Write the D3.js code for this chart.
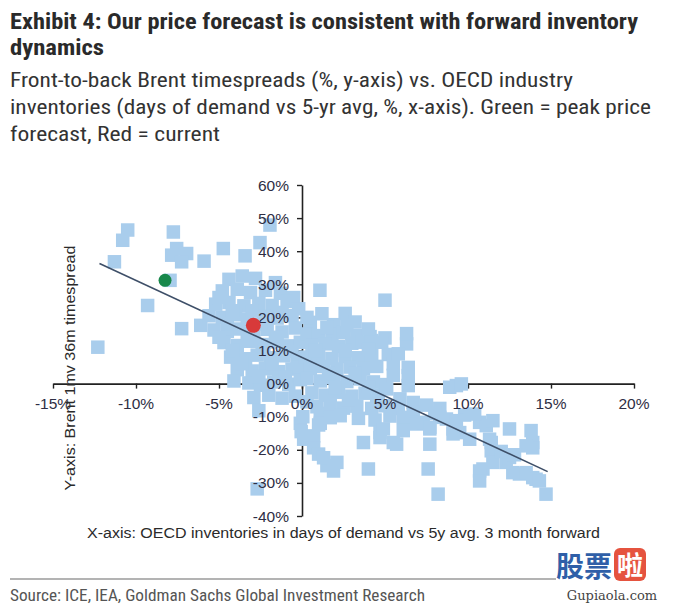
<!DOCTYPE html>
<html><head><meta charset="utf-8">
<script src="https://cdn.jsdelivr.net/npm/d3@7"></script>
<style>body{margin:0;background:#fff;}svg{display:block;}</style>
</head><body>
<script>
// ---- data ----
const titleLines = ["Exhibit 4: Our price forecast is consistent with forward inventory", "dynamics"];
const subtitleLines = ["Front-to-back Brent timespreads (%, y-axis) vs. OECD industry",
  "inventories (days of demand vs 5-yr avg, %, x-axis). Green = peak price",
  "forecast, Red = current"];
const xTicks = [-15, -10, -5, 0, 5, 10, 15, 20];
const yTicks = [-40, -30, -20, -10, 0, 10, 20, 30, 40, 50, 60];
const xTitle = "X-axis: OECD inventories in days of demand vs 5y avg. 3 month forward";
const yTitle = "Y-axis: Brent 1mv 36m timespread";
const sourceText = "Source: ICE, IEA, Goldman Sachs Global Investment Research";

// scatter: inventories (x, %) and timespread (y, %)
const invX = [
 -12.3,-11.3,-10.8,-10.5,-9.3,-7.95,-7.75,-7.55,-7.85,-6.95,-7.25,-7.25,-6.1,-5.9,-4.74,-3.43,-2.53,-1.93,
 -4.4,-3.6,-2.8,-1.6,
 -4.8,-3.9,-3.1,-2.2,-1.3,-0.5,
 -5.2,-4.4,-3.5,-2.6,-1.8,-0.9,-0.2,
 -5.6,-4.8,-4.0,-3.3,-2.3,-1.5,-0.6,
 -5.3,-4.5,-3.7,-2.9,-2.1,-1.2,-0.4,
 -4.7,-3.9,-3.1,-2.4,-1.6,-0.8,-0.1,
 -4.3,-3.4,-2.7,-1.9,-1.1,-0.3,
 -3.9,-3.0,-2.2,-1.4,-0.6,
 -4.1,-3.2,-2.5,-1.7,-0.8,-0.1,
 -2.9,-2.0,-1.2,-0.4,
 -5.0,-4.2,-3.0,-1.2,-4.5,-2.5,-5.0,-3.3,-1.5,-4.2,-2.3,-0.6,-3.6,-1.8,-0.2,-2.6,-1.0,
 -2.6,-2.7,-0.1,-0.05,0.1,0.7,0.7,1.0,1.5,2.1,1.3,1.9,1.1,1.1,0.05,
 0.5,1.2,2.6,3.2,1.9,1.08,5.0,
 0.3,1.0,1.8,2.5,3.3,4.1,5.0,
 0.6,1.4,2.2,3.0,3.6,4.2,4.8,6.3,6.3,
 0.2,1.0,1.8,2.6,3.4,4.2,5.2,
 0.5,1.3,2.1,2.9,3.7,4.5,5.5,6.4,6.4,
 0.3,1.1,1.9,2.7,3.5,4.3,5.0,6.4,
 0.6,1.4,2.2,3.0,3.8,4.6,5.1,5.9,
 0.9,1.7,2.5,3.3,4.2,5.0,6.7,
 0.3,1.5,2.7,4.0,0.8,2.6,4.0,1.6,3.2,5.8,5.5,2.0,4.0,0.3,2.8,4.5,1.0,5.8,
 1.7,2.3,3.4,4.4,5.3,6.7,6.7,6.1,6.1,6.9,
 3.7,4.0,4.7,4.7,4.9,5.5,5.7,7.3,7.7,7.7,7.6,8.2,
 9.3,8.9,9.6,7.5,8.3,8.7,9.1,9.5,10.1,10.7,11.1,11.5,12.5,11.3,11.4,11.4,
 13.8,13.9,13.9,13.5,10.9,10.7,10.7,11.5,12.3,12.5,12.7,13.1,13.5,13.9,14.1,14.3,14.7,
 12.0,12.8,9.8,10.4,8.0,8.3,9.3,9.1,7.7
];
const spreadY = [
 11,36.8,43.3,46.4,23.6,31.2,45.8,40.8,38.8,39.3,36.8,16.6,17.6,37.0,40.8,38.6,42.6,47.9,
 31.5,32.5,31.8,30.5,
 28,28.5,27.5,28.2,27.3,26,
 24,24.5,23.5,24.2,23.6,24.8,22.6,
 20.5,20,20.8,19.5,20.3,19.8,20.5,
 16.2,15.8,16.5,15.3,16.4,15.6,16.8,
 12.4,11.5,12.8,11.8,12.6,11.4,12.5,
 8,7.5,8.6,7.8,8.4,7.6,
 4.2,3.8,4.5,3.6,4.4,
 0.8,0.2,-0.5,0.5,-0.2,1.2,
 -4.2,-3.5,-4.4,-3.8,
 26,22,22,21.5,18,18,14,14,14,10,10,9.8,6,6,5,2.2,2,
 -8.2,-31.8,-12,-14.5,-16.8,-15.8,-19.4,-21.3,-24.8,-23.8,-22.4,-26.4,-9,-12,-10,
 18.5,21.1,21.2,18.6,17.8,28.2,25.2,
 15,14.5,14.8,15.4,14.5,14.2,13.8,
 11.5,12,11.2,12.2,12.5,13.0,12.5,12.0,15.1,
 8,8.5,7.6,8.2,7.8,8.5,8.8,
 4.6,5.2,4.4,5.0,4.5,5.2,6.0,4.9,2.4,
 1.5,0.8,1.8,0.6,1.4,0.5,-0.3,-0.6,
 -2.8,-3.5,-2.6,-3.8,-2.9,-3.4,-1.6,-4.6,
 -7,-6.5,-7.4,-6.8,-7.5,-6.7,-5.7,
 20,17,17.5,16.5,10,10,10.5,3,3,9,2.5,-1.2,-1,-5.5,-5,-5.3,-12.5,-7.5,
 -10.3,-9.7,-10.5,-11,-9.8,-8.7,-11.7,-10.2,-14.2,-12.2,
 -17.8,-25.8,-14.8,-16.3,-13.7,-17.8,-18.3,-11.7,-13.7,-18.3,-25.8,-33.4,
 -0.6,-1.1,-0.1,-6.5,-7.5,-10.7,-13.7,-14.8,-16.8,-11.7,-12.7,-11.2,-13.7,-16.8,-17.8,-20.3,
 -14.2,-17.8,-19.4,-18.8,-25.8,-26.4,-29.4,-23.8,-23.8,-22.3,-26.9,-27.3,-26.9,-28.4,-28.9,-29.4,-33.4,
 -20.5,-21.5,-9.5,-9.2,-9.0,-10.2,-11.2,-15.2,-13.2
];
// regression line endpoints
const fitX = [-12.2, 14.8];
const fitY = [36.3, -26.6];
// highlighted points
const peakForecast = {x: -8.25, y: 31.2};
const current = {x: -2.93, y: 17.6};

// ---- drawing ----
const W = 676, H = 606;
const svg = d3.select("body").append("svg").attr("width", W).attr("height", H);
const condensed = "'Liberation Sans Narrow','Roboto Condensed','DejaVu Sans Condensed','Arial Narrow',sans-serif";
const plain = "'Liberation Sans',Arial,sans-serif";

const titleWidths = [628, 94];
const titleBase = [29, 55];
titleLines.forEach((t, i) => {
  svg.append("text").attr("x", 10).attr("y", titleBase[i]).text(t)
    .attr("font-family", condensed).attr("font-weight", "bold").attr("font-size", 22)
    .attr("fill", "#2a2a2a").attr("textLength", titleWidths[i]).attr("lengthAdjust", "spacingAndGlyphs");
});
const subWidths = [563, 641, 210];
const subBase = [87, 114, 141];
subtitleLines.forEach((t, i) => {
  svg.append("text").attr("x", 10).attr("y", subBase[i]).text(t)
    .attr("font-family", condensed).attr("font-size", 21)
    .attr("fill", "#333").attr("textLength", subWidths[i]).attr("lengthAdjust", "spacingAndGlyphs");
});

const x = d3.scaleLinear().domain([-15, 20]).range([53, 634]);
const y = d3.scaleLinear().domain([-40, 60]).range([516, 185]);

// axis lines + ticks
const xAxisG = svg.append("g").attr("transform", `translate(0,${y(0)})`)
  .call(d3.axisBottom(x).tickValues(xTicks).tickSize(5).tickSizeOuter(0).tickFormat(""));
const yAxisG = svg.append("g").attr("transform", `translate(${x(0)},0)`)
  .call(d3.axisLeft(y).tickValues(yTicks).tickSize(5).tickSizeOuter(0).tickFormat(""));
[xAxisG, yAxisG].forEach(g => {
  g.select(".domain").attr("stroke", "#222").attr("stroke-width", 1.6);
  g.selectAll(".tick line").attr("stroke", "#222").attr("stroke-width", 1.4);
});

// squares
const sq = 13.5;
const pts = invX.map((v, i) => ({x: v, y: spreadY[i]}));
svg.append("g").selectAll("rect").data(pts).join("rect")
  .attr("x", d => x(d.x) - sq / 2).attr("y", d => y(d.y) - sq / 2)
  .attr("width", sq).attr("height", sq).attr("fill", "#a9cdec");

// tick labels
svg.append("g").selectAll("text").data(xTicks).join("text")
  .attr("x", d => x(d)).attr("y", y(0) + 25).attr("text-anchor", "middle")
  .attr("font-family", plain).attr("font-size", 15.5).attr("fill", "#2e2e44")
  .text(d => d + "%");
svg.append("g").selectAll("text").data(yTicks).join("text")
  .attr("x", x(0) - 13).attr("y", d => y(d) + 5.5).attr("text-anchor", "end")
  .attr("font-family", plain).attr("font-size", 15.5).attr("fill", "#2e2e44")
  .text(d => d + "%");

// regression line
svg.append("line").attr("x1", x(fitX[0])).attr("y1", y(fitY[0]))
  .attr("x2", x(fitX[1])).attr("y2", y(fitY[1]))
  .attr("stroke", "#3e4f68").attr("stroke-width", 1.6);

// highlight dots
svg.append("circle").attr("cx", x(peakForecast.x)).attr("cy", y(peakForecast.y)).attr("r", 6.5).attr("fill", "#18884b");
svg.append("circle").attr("cx", x(current.x)).attr("cy", y(current.y)).attr("r", 7.5).attr("fill", "#d83a3a");

// axis titles
svg.append("text").attr("x", 87).attr("y", 538).text(xTitle)
  .attr("font-family", plain).attr("font-size", 14).attr("fill", "#2a2a2a")
  .attr("textLength", 513).attr("lengthAdjust", "spacingAndGlyphs");
svg.append("text").attr("transform", "translate(75,368) rotate(-90)").attr("text-anchor", "middle")
  .text(yTitle).attr("font-family", plain).attr("font-size", 14).attr("fill", "#2a2a2a")
  .attr("textLength", 245).attr("lengthAdjust", "spacingAndGlyphs");

// source
svg.append("line").attr("x1", 10).attr("x2", 556).attr("y1", 579).attr("y2", 579)
  .attr("stroke", "#9a9a9a").attr("stroke-width", 1.5);
svg.append("text").attr("x", 10).attr("y", 601).text(sourceText)
  .attr("font-family", condensed).attr("font-size", 17).attr("fill", "#555")
  .attr("textLength", 415).attr("lengthAdjust", "spacingAndGlyphs");

// watermark
svg.append("text").attr("x", 556).attr("y", 577).text("股票")
  .attr("font-family", "'Noto Sans CJK SC',sans-serif").attr("font-weight", "bold")
  .attr("font-size", 28).attr("fill", "#2f5fa8");
svg.append("rect").attr("x", 614).attr("y", 548).attr("width", 32).attr("height", 33).attr("rx", 6).attr("fill", "#e5533f");
svg.append("text").attr("x", 630).attr("y", 575).attr("text-anchor", "middle").text("啦")
  .attr("font-family", "'Noto Sans CJK SC',sans-serif").attr("font-weight", "bold")
  .attr("font-size", 26).attr("fill", "#fff");
svg.append("text").attr("x", 612).attr("y", 600).attr("text-anchor", "middle").text("Gupiaola.com")
  .attr("font-family", "'DejaVu Serif','Liberation Serif',serif").attr("font-size", 13).attr("fill", "#444");
</script>
</body></html>
